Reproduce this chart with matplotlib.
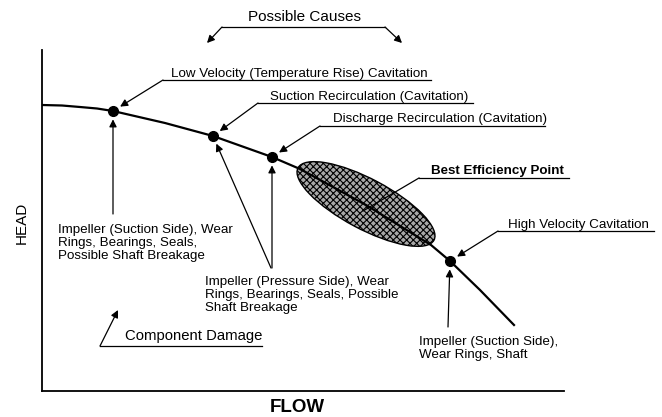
import numpy as np
import matplotlib
matplotlib.use("Agg")
import matplotlib.pyplot as plt
from matplotlib.patches import Ellipse

plt.rcParams['font.family'] = ['Liberation Sans', 'DejaVu Sans']
plt.rcParams['hatch.linewidth'] = 0.8

# pump head curve (arbitrary units)
flow = [0, 20, 38, 55, 71, 123, 171, 230, 258, 324, 389, 408, 438, 472]
head = [286, 285.5, 284, 282.5, 280, 268, 255, 234, 222, 186, 146, 130, 101, 66]

# indices of the marked operating points
marked = [4, 6, 7, 11]

# best efficiency point region
bep_flow, bep_head = 324, 187
bep_len, bep_wid, bep_angle = 154, 50, -28

causes = [
    "Low Velocity (Temperature Rise) Cavitation",
    "Suction Recirculation (Cavitation)",
    "Discharge Recirculation (Cavitation)",
    "High Velocity Cavitation",
]
damage = [
    "Impeller (Suction Side), Wear\nRings, Bearings, Seals,\nPossible Shaft Breakage",
    "Impeller (Pressure Side), Wear\nRings, Bearings, Seals, Possible\nShaft Breakage",
    "Impeller (Suction Side),\nWear Rings, Shaft",
]

W, H = 662, 417
fig = plt.figure(figsize=(W / 100, H / 100), dpi=100)
x0, x1, y0, y1 = 42, 564, 50, 391
ax = fig.add_axes([x0 / W, 1 - y1 / H, (x1 - x0) / W, (y1 - y0) / H])
ax.set_xlim(0, x1 - x0)
ax.set_ylim(0, y1 - y0)
for s in ['top', 'right']:
    ax.spines[s].set_visible(False)
for s in ['left', 'bottom']:
    ax.spines[s].set_linewidth(1.3)
ax.set_xticks([])
ax.set_yticks([])

ell = Ellipse((bep_flow, bep_head), bep_len, bep_wid, angle=bep_angle,
              facecolor='#a8a8a8', edgecolor='black', hatch='xxxxx', lw=1.0, zorder=2)
ax.add_patch(ell)
ax.plot(flow, head, color='black', lw=1.6, zorder=3)
ax.plot([flow[i] for i in marked], [head[i] for i in marked], 'o',
        color='black', ms=7, zorder=4)

# overlay in image pixel coordinates for labels
ov = fig.add_axes([0, 0, 1, 1])
ov.set_xlim(0, W)
ov.set_ylim(H, 0)
ov.axis('off')
ov.set_facecolor('none')

fs = 9.6
ls = 1.1
arrow = dict(arrowstyle='-|>', color='black', lw=0.9, mutation_scale=11,
             shrinkA=0, shrinkB=0)


def underline(xa, xb, y):
    ov.plot([xa, xb], [y, y], color='black', lw=0.9)


def to_point(i, start, shrink=6):
    ap = dict(arrow, shrinkB=shrink)
    ov.annotate('', xy=(flow[i], head[i]), xycoords=ax.transData,
                xytext=start, textcoords='data', arrowprops=ap,
                annotation_clip=False)


# causes
ov.text(171, 77, causes[0], fontsize=fs, va='baseline')
underline(163, 431, 80)
to_point(marked[0], (163, 80))

ov.text(270, 100, causes[1], fontsize=fs, va='baseline')
underline(258, 473, 103)
to_point(marked[1], (258, 103))

ov.text(333, 122, causes[2], fontsize=fs, va='baseline')
underline(320, 545, 126)
to_point(marked[2], (320, 126))

ov.text(508, 228, causes[3], fontsize=fs, va='baseline')
underline(498, 654, 231)
to_point(marked[3], (498, 231))

ov.text(431, 174, "Best Efficiency Point", fontsize=fs, fontweight='bold',
        va='baseline')
underline(419, 569, 178)
ov.plot([419, 363], [178, 211], color='black', lw=0.9, zorder=5)

# damage (baseline of last line)
ov.text(58, 259, damage[0], fontsize=fs, va='baseline', linespacing=ls)
to_point(marked[0], (113, 214))

ov.text(205, 311, damage[1], fontsize=fs, va='baseline', linespacing=ls)
to_point(marked[1], (271, 268))
to_point(marked[2], (272, 268))

ov.text(419, 358, damage[2], fontsize=fs, va='baseline', linespacing=ls)
to_point(marked[3], (448, 327))

ov.text(125, 340, "Component Damage", fontsize=10.7, va='baseline')
underline(100, 262, 346)
ov.annotate('', xy=(118, 310), xytext=(100, 346), arrowprops=arrow)

ov.text(305, 21, "Possible Causes", fontsize=11, ha='center', va='baseline')
underline(222, 385, 27)
ov.annotate('', xy=(207, 43), xytext=(222, 27), arrowprops=arrow)
ov.annotate('', xy=(402, 43), xytext=(385, 27), arrowprops=arrow)

ov.text(22, 223, "HEAD", fontsize=11, rotation=90, ha='center', va='center')
ov.text(297, 408, "FLOW", fontsize=13.5, fontweight='bold', ha='center', va='center')

fig.savefig('out.png', dpi=100)
